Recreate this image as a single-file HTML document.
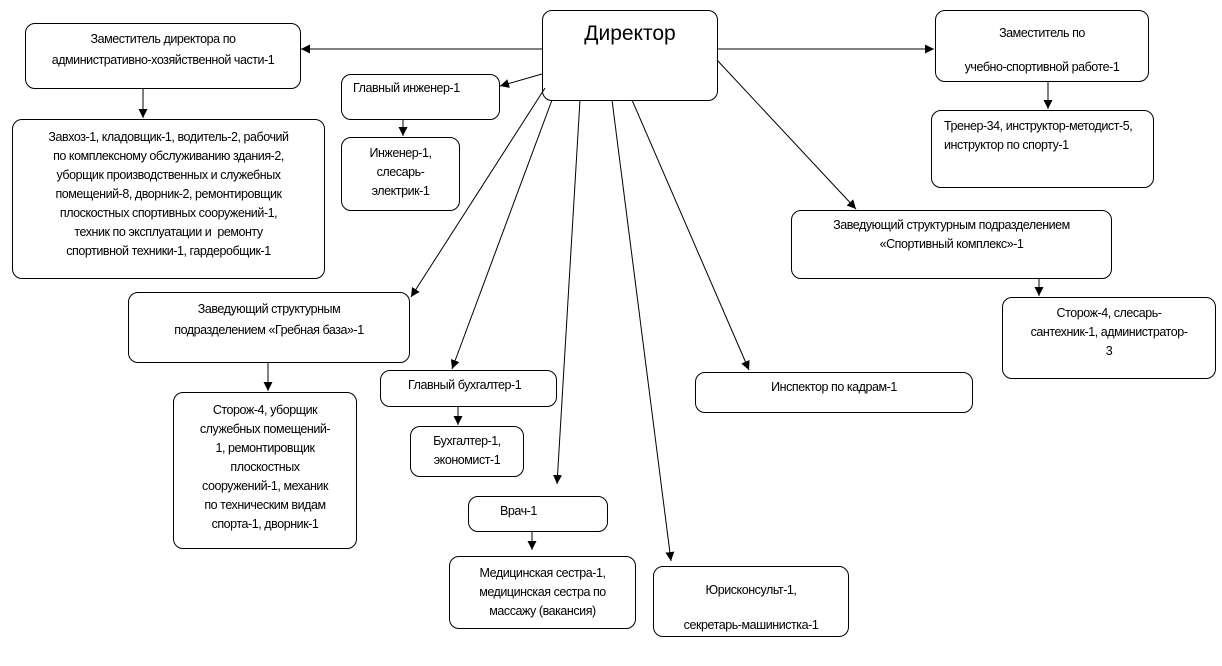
<!DOCTYPE html>
<html><head><meta charset="utf-8"><style>
body{margin:0;width:1222px;height:666px;background:#fff;position:relative;overflow:hidden;font-family:"Liberation Sans",sans-serif;font-size:12.5px;letter-spacing:-0.45px;color:#000}
.b{position:absolute;border:1px solid #000;border-radius:10px;box-sizing:border-box;background:#fff}
.t{position:absolute;white-space:nowrap;line-height:19px}
.c{text-align:center}
svg{position:absolute;left:0;top:0}
</style></head><body>
<div class="b" style="left:542px;top:10px;width:176px;height:91px"></div>
<div class="t" style="left:542px;top:20px;width:176px;text-align:center;font-size:21px;letter-spacing:0;line-height:28px">Директор</div>

<div class="b" style="left:25px;top:23px;width:276px;height:66px"></div>
<div class="t c" style="left:25px;top:29px;width:276px;line-height:21px">Заместитель директора по<br>административно-хозяйственной части-1</div>

<div class="b" style="left:12px;top:119px;width:313px;height:160px"></div>
<div class="t c" style="left:12px;top:128px;width:313px">Завхоз-1, кладовщик-1, водитель-2, рабочий<br>по комплексному обслуживанию здания-2,<br>уборщик производственных и служебных<br>помещений-8, дворник-2, ремонтировщик<br>плоскостных спортивных сооружений-1,<br>техник по эксплуатации и&nbsp; ремонту<br>спортивной техники-1, гардеробщик-1</div>

<div class="b" style="left:341px;top:74px;width:159px;height:46px"></div>
<div class="t" style="left:353px;top:79px">Главный инженер-1</div>

<div class="b" style="left:341px;top:137px;width:119px;height:74px"></div>
<div class="t c" style="left:341px;top:144px;width:119px">Инженер-1,<br>слесарь-<br>электрик-1</div>

<div class="b" style="left:935px;top:10px;width:214px;height:72px"></div>
<div class="t c" style="left:935px;top:16px;width:214px;line-height:34px">Заместитель по<br>учебно-спортивной работе-1</div>

<div class="b" style="left:931px;top:110px;width:223px;height:78px"></div>
<div class="t" style="left:944px;top:117px">Тренер-34, инструктор-методист-5,<br>инструктор по спорту-1</div>

<div class="b" style="left:791px;top:210px;width:321px;height:69px"></div>
<div class="t c" style="left:791px;top:216px;width:321px">Заведующий структурным подразделением<br>«Спортивный комплекс»-1</div>

<div class="b" style="left:1002px;top:297px;width:214px;height:82px"></div>
<div class="t c" style="left:1002px;top:304px;width:214px">Сторож-4, слесарь-<br>сантехник-1, администратор-<br>3</div>

<div class="b" style="left:128px;top:292px;width:282px;height:71px"></div>
<div class="t c" style="left:128px;top:299px;width:282px;line-height:21px">Заведующий структурным<br>подразделением «Гребная база»-1</div>

<div class="b" style="left:173px;top:392px;width:184px;height:157px"></div>
<div class="t c" style="left:173px;top:401px;width:184px">Сторож-4, уборщик<br>служебных помещений-<br>1, ремонтировщик<br>плоскостных<br>сооружений-1, механик<br>по техническим видам<br>спорта-1, дворник-1</div>

<div class="b" style="left:380px;top:370px;width:177px;height:37px"></div>
<div class="t" style="left:408px;top:376px">Главный бухгалтер-1</div>

<div class="b" style="left:410px;top:426px;width:114px;height:51px"></div>
<div class="t c" style="left:410px;top:432px;width:114px">Бухгалтер-1,<br>экономист-1</div>

<div class="b" style="left:468px;top:496px;width:140px;height:36px"></div>
<div class="t" style="left:500px;top:502px">Врач-1</div>

<div class="b" style="left:449px;top:556px;width:187px;height:73px"></div>
<div class="t c" style="left:449px;top:564px;width:187px">Медицинская сестра-1,<br>медицинская сестра по<br>массажу (вакансия)</div>

<div class="b" style="left:653px;top:566px;width:196px;height:71px"></div>
<div class="t c" style="left:653px;top:573px;width:196px;line-height:35px">Юрисконсульт-1,<br>секретарь-машинистка-1</div>

<div class="b" style="left:695px;top:372px;width:278px;height:41px"></div>
<div class="t c" style="left:695px;top:378px;width:278px">Инспектор по кадрам-1</div>

<svg width="1222" height="666">
<defs><marker id="a" viewBox="0 0 10 10" refX="10" refY="5" markerWidth="9" markerHeight="9" orient="auto" markerUnits="userSpaceOnUse"><path d="M0,0L10,5L0,10z" fill="#000"/></marker></defs>
<g stroke="#000" stroke-width="1" fill="none" marker-end="url(#a)">
<line x1="542" y1="49" x2="301" y2="49"/>
<line x1="542" y1="74" x2="500" y2="86"/>
<line x1="545" y1="88" x2="411" y2="297"/>
<line x1="552" y1="100" x2="452" y2="369"/>
<line x1="580" y1="100" x2="557" y2="484"/>
<line x1="612" y1="100" x2="671" y2="561"/>
<line x1="632" y1="100" x2="749" y2="370"/>
<line x1="717" y1="60" x2="856" y2="209"/>
<line x1="717" y1="49" x2="934" y2="49"/>
<line x1="143" y1="88" x2="143" y2="118"/>
<line x1="403" y1="119" x2="403" y2="136"/>
<line x1="1048" y1="82" x2="1048" y2="109"/>
<line x1="1039" y1="279" x2="1039" y2="296"/>
<line x1="268" y1="363" x2="268" y2="391"/>
<line x1="458" y1="407" x2="458" y2="425"/>
<line x1="532" y1="532" x2="532" y2="550"/>
</g></svg>
</body></html>
